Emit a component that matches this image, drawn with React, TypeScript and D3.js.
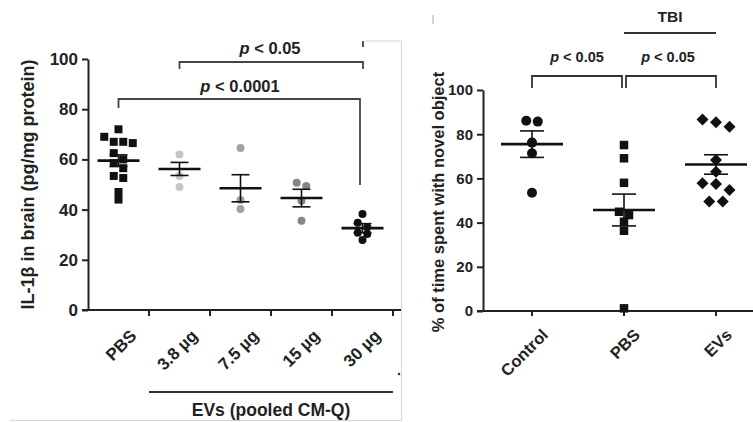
import React, { useEffect, useRef } from 'react';
import * as d3 from 'd3';

// ---- left panel: IL-1β in brain ----
const doseGroups = ['PBS', '3.8 µg', '7.5 µg', '15 µg', '30 µg'];
const dosePBS = [72, 69, 67, 67, 66.5, 62.5, 60, 58.5, 56.5, 53.4, 52.6, 47, 44];
const dose38 = [62, 53.4, 49];
const dose75 = [64.5, 43.8, 40.2];
const dose15 = [50.7, 49.4, 43.5, 35.6];
const dose30 = [38.2, 34.8, 33, 30.8, 30.3, 27.9];
const doseMeans = [59.5, 56.2, 48.5, 44.6, 32.6];
const doseSems = [2.3, 2.6, 5.4, 3.5, 1.8];
const doseColors = ['#111', '#c6c6c6', '#a2a2a2', '#858585', '#111'];

// ---- right panel: novel object recognition ----
const tbiGroups = ['Control', 'PBS', 'EVs'];
const tbiControl = [86.1, 85.7, 76.2, 71.4, 53.5];
const tbiPBS = [75.1, 69.1, 58, 44.9, 43.4, 40.4, 36.3, 1.2];
const tbiEVs = [86.7, 85.4, 83.4, 68.3, 63, 57.8, 57.5, 54.8, 49.5, 49.5];
const tbiMeans = [75.5, 45.7, 66.3];
const tbiSems = [6, 7.2, 4.4];

const yTicks = [0, 20, 40, 60, 80, 100];

const FONT = "'Liberation Sans', Arial, Helvetica, sans-serif";

type Shape = 'square' | 'circle' | 'diamond';
interface Group {
  name: string;
  values: number[];
  mean: number;
  sem: number;
  shape: Shape;
  fill: string;
  size: number;
}

// spread points of similar height side by side (centered rows)
function dodge(values: number[], y: (v: number) => number, size: number, step: number) {
  const order = d3.range(values.length).sort((a, b) => values[b] - values[a]);
  const offs = new Array(values.length).fill(0);
  let i = 0;
  while (i < order.length) {
    const top = y(values[order[i]]);
    let j = i;
    while (j < order.length && y(values[order[j]]) - top < size * 0.9) j++;
    const n = j - i;
    for (let k = 0; k < n; k++) offs[order[i + k]] = (k - (n - 1) / 2) * step;
    i = j;
  }
  return offs;
}

function drawGroups(
  g: d3.Selection<SVGGElement, unknown, null, undefined>,
  groups: Group[],
  xc: (name: string) => number,
  y: d3.ScaleLinear<number, number>,
  meanHalf: number,
  capHalf: number
) {
  groups.forEach((grp) => {
    const cx = xc(grp.name);
    const offs = dodge(grp.values, y, grp.size, grp.size + 1.5);
    const sym =
      grp.shape === 'circle'
        ? d3.symbol().type(d3.symbolCircle).size(Math.PI * (grp.size / 2) ** 2)
        : d3.symbol().type(d3.symbolSquare).size(grp.size * grp.size * (grp.shape === 'diamond' ? 0.5 : 1));

    g.append('g')
      .selectAll('path')
      .data(grp.values)
      .enter()
      .append('path')
      .attr('d', sym() as string)
      .attr('fill', grp.fill)
      .attr('transform', (d, i) =>
        `translate(${cx + offs[i]},${y(d)})` + (grp.shape === 'diamond' ? ' rotate(45)' : '')
      );

    // error bar (mean ± SEM)
    const eg = g.append('g').attr('stroke', '#111').attr('fill', 'none');
    eg.append('line')
      .attr('x1', cx).attr('x2', cx)
      .attr('y1', y(grp.mean + grp.sem)).attr('y2', y(grp.mean - grp.sem))
      .attr('stroke-width', 1.6);
    [grp.mean + grp.sem, grp.mean - grp.sem].forEach((v) => {
      eg.append('line')
        .attr('x1', cx - capHalf).attr('x2', cx + capHalf)
        .attr('y1', y(v)).attr('y2', y(v))
        .attr('stroke-width', 1.6);
    });
    eg.append('line')
      .attr('x1', cx - meanHalf).attr('x2', cx + meanHalf)
      .attr('y1', y(grp.mean)).attr('y2', y(grp.mean))
      .attr('stroke-width', 2.6);
  });
}

function pText(
  g: d3.Selection<SVGGElement, unknown, null, undefined>,
  x: number,
  y: number,
  label: string,
  size: number
) {
  const t = g.append('text')
    .attr('x', x).attr('y', y)
    .attr('text-anchor', 'middle')
    .attr('font-size', size)
    .attr('font-weight', 'bold')
    .attr('fill', '#222');
  t.append('tspan').attr('font-style', 'italic').text('p');
  t.append('tspan').text(' ' + label);
}

function bracket(
  g: d3.Selection<SVGGElement, unknown, null, undefined>,
  x1: number, x2: number, yTop: number, y1: number, y2: number, color: string
) {
  g.append('path')
    .attr('d', `M${x1},${y1}V${yTop}H${x2}V${y2}`)
    .attr('fill', 'none')
    .attr('stroke', color)
    .attr('stroke-width', 1.8);
}

const App = () => {
  const svgRef = useRef<SVGSVGElement>(null);

  useEffect(() => {
    const svg = d3.select(svgRef.current);
    svg.selectAll('*').remove();
    svg.attr('width', 753).attr('height', 422);

    const root = svg.append('g').attr('font-family', FONT);

    // panel frame remnants (cropped figure)
    const frame = root.append('g').attr('stroke', '#d4d4d4').attr('stroke-width', 1).attr('fill', 'none');
    frame.append('path').attr('d', 'M365,41H401.5V420.5H10');
    root.append('line').attr('x1', 363).attr('x2', 363).attr('y1', 41).attr('y2', 47)
      .attr('stroke', '#555').attr('stroke-width', 2);
    root.append('line').attr('x1', 433).attr('x2', 433).attr('y1', 15).attr('y2', 24)
      .attr('stroke', '#aaa').attr('stroke-width', 1);
    root.append('circle').attr('cx', 399).attr('cy', 374).attr('r', 1.3).attr('fill', '#333');

    // ================= LEFT PANEL =================
    const L = { x0: 88, x1: 393, xEnd: 401, yTop: 59, yBot: 310 };
    const yL = d3.scaleLinear().domain([0, 100]).range([L.yBot, L.yTop]);
    const xL = d3.scaleBand<string>().domain(doseGroups).range([L.x0, L.x1]);
    const bwL = xL.bandwidth();
    const cxL = (n: string) => (xL(n) as number) + bwL / 2;

    const left = root.append('g');

    const yAxL = left.append('g')
      .attr('transform', `translate(${L.x0},0)`)
      .call(d3.axisLeft(yL).tickValues(yTicks).tickSize(6).tickSizeOuter(0).tickPadding(4));
    yAxL.select('.domain').attr('stroke', '#222').attr('stroke-width', 2);
    yAxL.selectAll('.tick line').attr('stroke', '#222').attr('stroke-width', 2);
    yAxL.selectAll('.tick text')
      .attr('font-family', FONT).attr('font-size', 17).attr('font-weight', 'bold').attr('fill', '#222');

    left.append('line')
      .attr('x1', L.x0 - 6).attr('x2', L.xEnd)
      .attr('y1', L.yBot).attr('y2', L.yBot)
      .attr('stroke', '#222').attr('stroke-width', 2);
    const bounds = doseGroups.map((d) => xL(d) as number).concat([xL.range()[1]]);
    left.selectAll('line.xt')
      .data(bounds.slice(1))
      .enter()
      .append('line')
      .attr('class', 'xt')
      .attr('x1', (d) => d).attr('x2', (d) => d)
      .attr('y1', L.yBot).attr('y2', L.yBot + 6)
      .attr('stroke', '#222').attr('stroke-width', 2);

    left.selectAll('text.xl')
      .data(doseGroups)
      .enter()
      .append('text')
      .attr('class', 'xl')
      .attr('transform', (d) => `translate(${cxL(d) + 19},${L.yBot + 27}) rotate(-45)`)
      .attr('text-anchor', 'end')
      .attr('font-size', 17)
      .attr('font-weight', 'bold')
      .attr('fill', '#222')
      .text((d) => d);

    left.append('text')
      .attr('transform', `translate(34,${(L.yTop + L.yBot) / 2}) rotate(-90)`)
      .attr('text-anchor', 'middle')
      .attr('font-size', 18)
      .attr('font-weight', 'bold')
      .attr('fill', '#222')
      .text('IL-1β in brain (pg/mg protein)');

    // EVs group underline
    left.append('line')
      .attr('x1', xL(doseGroups[1]) as number).attr('x2', L.x1)
      .attr('y1', 392).attr('y2', 392)
      .attr('stroke', '#333').attr('stroke-width', 2);
    left.append('text')
      .attr('x', ((xL(doseGroups[1]) as number) + L.x1) / 2)
      .attr('y', 416)
      .attr('text-anchor', 'middle')
      .attr('font-size', 17.5)
      .attr('font-weight', 'bold')
      .attr('fill', '#222')
      .text('EVs (pooled CM-Q)');

    const doseValues = [dosePBS, dose38, dose75, dose15, dose30];
    const leftGroups: Group[] = doseGroups.map((name, i) => ({
      name,
      values: doseValues[i],
      mean: doseMeans[i],
      sem: doseSems[i],
      shape: i === 0 ? 'square' : 'circle',
      fill: doseColors[i],
      size: i === 0 ? 8 : 8,
    }));
    drawGroups(left, leftGroups, cxL, yL, 21, 9);

    // significance brackets
    bracket(left, cxL('3.8 µg'), 363, 62, 69, 69, '#444');
    pText(left, 270, 54, '< 0.05', 16.5);
    bracket(left, cxL('PBS'), 360, 99, 108, 185, '#444');
    pText(left, 240, 92, '< 0.0001', 16.5);

    // ================= RIGHT PANEL =================
    const R = { x0: 483, xEnd: 753, yTop: 90, yBot: 311 };
    const yR = d3.scaleLinear().domain([0, 100]).range([R.yBot, R.yTop]);
    const xR = d3.scalePoint<string>().domain(tbiGroups).range([532, 716]);
    const cxR = (n: string) => xR(n) as number;

    const right = root.append('g');

    const yAxR = right.append('g')
      .attr('transform', `translate(${R.x0},0)`)
      .call(d3.axisLeft(yR).tickValues(yTicks).tickSize(6).tickSizeOuter(0).tickPadding(4));
    yAxR.select('.domain').attr('stroke', '#222').attr('stroke-width', 2);
    yAxR.selectAll('.tick line').attr('stroke', '#222').attr('stroke-width', 2);
    yAxR.selectAll('.tick text')
      .attr('font-family', FONT).attr('font-size', 15).attr('font-weight', 'bold').attr('fill', '#222');

    right.append('line')
      .attr('x1', R.x0 - 6).attr('x2', R.xEnd)
      .attr('y1', R.yBot).attr('y2', R.yBot)
      .attr('stroke', '#222').attr('stroke-width', 2);
    right.selectAll('line.xt')
      .data(tbiGroups)
      .enter()
      .append('line')
      .attr('class', 'xt')
      .attr('x1', (d) => cxR(d)).attr('x2', (d) => cxR(d))
      .attr('y1', R.yBot).attr('y2', R.yBot + 5)
      .attr('stroke', '#222').attr('stroke-width', 2);

    right.selectAll('text.xl')
      .data(tbiGroups)
      .enter()
      .append('text')
      .attr('class', 'xl')
      .attr('transform', (d) => `translate(${cxR(d) + 17},${R.yBot + 25}) rotate(-45)`)
      .attr('text-anchor', 'end')
      .attr('font-size', 16.5)
      .attr('font-weight', 'bold')
      .attr('fill', '#222')
      .text((d) => d);

    right.append('text')
      .attr('transform', `translate(444,202) rotate(-90)`)
      .attr('text-anchor', 'middle')
      .attr('font-size', 16.5)
      .attr('font-weight', 'bold')
      .attr('fill', '#222')
      .text('% of time spent with novel object');

    const tbiValues = [tbiControl, tbiPBS, tbiEVs];
    const tbiShapes: Shape[] = ['circle', 'square', 'diamond'];
    const tbiSizes = [10, 8.5, 12];
    const rightGroups: Group[] = tbiGroups.map((name, i) => ({
      name,
      values: tbiValues[i],
      mean: tbiMeans[i],
      sem: tbiSems[i],
      shape: tbiShapes[i],
      fill: '#111',
      size: tbiSizes[i],
    }));
    drawGroups(right, rightGroups, cxR, yR, 31, 12);

    bracket(right, cxR('Control'), cxR('PBS') - 2, 76, 88, 88, '#333');
    bracket(right, cxR('PBS') + 2, cxR('EVs'), 76, 88, 88, '#333');
    pText(right, 577, 62, '< 0.05', 14.5);
    pText(right, 668, 62, '< 0.05', 14.5);

    right.append('line')
      .attr('x1', cxR('PBS')).attr('x2', cxR('EVs'))
      .attr('y1', 33).attr('y2', 33)
      .attr('stroke', '#333').attr('stroke-width', 1.8);
    right.append('text')
      .attr('x', (cxR('PBS') + cxR('EVs')) / 2)
      .attr('y', 22)
      .attr('text-anchor', 'middle')
      .attr('font-size', 15.5)
      .attr('font-weight', 'bold')
      .attr('fill', '#222')
      .text('TBI');
  }, []);

  return (
    <div style={{ position: 'absolute', left: 0, top: 0, width: 753, height: 422, background: '#fff' }}>
      <svg ref={svgRef} style={{ display: 'block' }}></svg>
    </div>
  );
};

export default App;
